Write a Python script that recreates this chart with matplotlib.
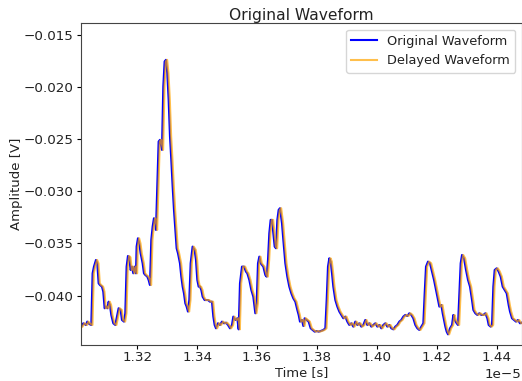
import matplotlib
matplotlib.use("Agg")
import matplotlib.pyplot as plt
import numpy as np

# time in units of 1e-5 s
t_1e5 = [
    1.30130, 1.30197, 1.30286, 1.30330, 1.30397, 1.30464, 1.30508, 1.30553, 1.30620, 1.30664,
    1.30709, 1.30753, 1.30820, 1.30864, 1.30909, 1.30953, 1.30998, 1.31042, 1.31087, 1.31131,
    1.31198, 1.31265, 1.31310, 1.31376, 1.31443, 1.31488, 1.31555, 1.31599, 1.31643, 1.31688,
    1.31732, 1.31777, 1.31822, 1.31866, 1.31911, 1.31955, 1.31977, 1.32022, 1.32066, 1.32111,
    1.32178, 1.32222, 1.32267, 1.32334, 1.32378, 1.32423, 1.32467, 1.32512, 1.32556, 1.32601,
    1.32623, 1.32668, 1.32712, 1.32757, 1.32801, 1.32823, 1.32868, 1.32912, 1.32957, 1.33001,
    1.33046, 1.33091, 1.33135, 1.33180, 1.33224, 1.33269, 1.33313, 1.33358, 1.33424, 1.33469,
    1.33514, 1.33558, 1.33603, 1.33647, 1.33692, 1.33736, 1.33781, 1.33846, 1.33914, 1.33959,
    1.34003, 1.34048, 1.34092, 1.34137, 1.34181, 1.34248, 1.34293, 1.34360, 1.34426, 1.34493,
    1.34538, 1.34582, 1.34627, 1.34693, 1.34760, 1.34827, 1.34894, 1.34961, 1.35027, 1.35094,
    1.35161, 1.35205, 1.35272, 1.35339, 1.35384, 1.35428, 1.35495, 1.35562, 1.35628, 1.35673,
    1.35740, 1.35806, 1.35873, 1.35940, 1.35985, 1.36029, 1.36074, 1.36118, 1.36163, 1.36207,
    1.36274, 1.36318, 1.36363, 1.36407, 1.36452, 1.36496, 1.36541, 1.36586, 1.36630, 1.36675,
    1.36719, 1.36764, 1.36830, 1.36875, 1.36942, 1.37008, 1.37075, 1.37142, 1.37209, 1.37276,
    1.37342, 1.37387, 1.37431, 1.37498, 1.37543, 1.37587, 1.37654, 1.37721, 1.37788, 1.37854,
    1.37921, 1.37988, 1.38055, 1.38121, 1.38210, 1.38277, 1.38322, 1.38366, 1.38411, 1.38455,
    1.38500, 1.38544, 1.38611, 1.38678, 1.38745, 1.38811, 1.38878, 1.38945, 1.39012, 1.39078,
    1.39145, 1.39212, 1.39279, 1.39345, 1.39412, 1.39479, 1.39546, 1.39613, 1.39679, 1.39746,
    1.39813, 1.39880, 1.39946, 1.40013, 1.40080, 1.40147, 1.40214, 1.40280, 1.40347, 1.40414,
    1.40481, 1.40548, 1.40614, 1.40681, 1.40748, 1.40815, 1.40881, 1.40948, 1.41015, 1.41082,
    1.41149, 1.41215, 1.41282, 1.41349, 1.41416, 1.41482, 1.41549, 1.41594, 1.41638, 1.41705,
    1.41772, 1.41839, 1.41906, 1.41972, 1.42039, 1.42084, 1.42150, 1.42195, 1.42240, 1.42284,
    1.42328, 1.42373, 1.42440, 1.42507, 1.42551, 1.42596, 1.42662, 1.42707, 1.42751, 1.42796,
    1.42841, 1.42907, 1.42974, 1.43041, 1.43107, 1.43174, 1.43219, 1.43285, 1.43352, 1.43419,
    1.43486, 1.43553, 1.43619, 1.43686, 1.43731, 1.43797, 1.43842, 1.43886, 1.43931, 1.43998,
    1.44065, 1.44131, 1.44198, 1.44265, 1.44332, 1.44398, 1.44443, 1.44510, 1.44577, 1.44643,
    1.44710, 1.44777, 1.44833,
]

amplitude = [
    -0.04297, -0.04265, -0.04281, -0.04249, -0.04272, -0.04281, -0.03786, -0.03722, -0.03658, -0.03690,
    -0.03882, -0.03898, -0.03914, -0.03962, -0.04121, -0.04105, -0.04121, -0.04058, -0.04090, -0.04185,
    -0.04265, -0.04281, -0.04217, -0.04121, -0.04137, -0.04233, -0.04249, -0.04169, -0.03722, -0.03620,
    -0.03632, -0.03754, -0.03722, -0.03786, -0.03722, -0.03786, -0.03530, -0.03450, -0.03498, -0.03594,
    -0.03690, -0.03786, -0.03802, -0.03818, -0.03850, -0.03898, -0.03466, -0.03338, -0.03258, -0.03306,
    -0.03370, -0.02955, -0.02523, -0.02507, -0.02571, -0.02603, -0.01996, -0.01756, -0.01740, -0.01868,
    -0.02123, -0.02475, -0.02699, -0.02955, -0.03178, -0.03370, -0.03546, -0.03594, -0.03690, -0.03818,
    -0.03914, -0.03978, -0.04074, -0.04105, -0.04153, -0.04042, -0.03690, -0.03530, -0.03562, -0.03658,
    -0.03850, -0.03914, -0.03914, -0.03946, -0.04010, -0.04042, -0.04042, -0.04042, -0.04058, -0.04058,
    -0.04201, -0.04281, -0.04313, -0.04265, -0.04281, -0.04249, -0.04265, -0.04259, -0.04281, -0.04313,
    -0.04281, -0.04201, -0.04233, -0.04217, -0.04323, -0.03882, -0.03722, -0.03722, -0.03770, -0.03786,
    -0.03850, -0.03946, -0.04010, -0.04169, -0.04074, -0.03690, -0.03626, -0.03690, -0.03706, -0.03722,
    -0.03802, -0.03818, -0.03658, -0.03402, -0.03274, -0.03274, -0.03402, -0.03530, -0.03546, -0.03274,
    -0.03178, -0.03162, -0.03306, -0.03466, -0.03690, -0.03818, -0.03914, -0.03978, -0.04026, -0.04058,
    -0.04137, -0.04185, -0.04249, -0.04233, -0.04291, -0.04217, -0.04233, -0.04249, -0.04313, -0.04329,
    -0.04345, -0.04339, -0.04345, -0.04339, -0.04329, -0.04313, -0.04042, -0.03722, -0.03642, -0.03674,
    -0.03786, -0.03914, -0.04042, -0.04105, -0.04153, -0.04185, -0.04217, -0.04201, -0.04249, -0.04281,
    -0.04265, -0.04297, -0.04249, -0.04281, -0.04265, -0.04297, -0.04281, -0.04233, -0.04281, -0.04265,
    -0.04297, -0.04281, -0.04265, -0.04297, -0.04281, -0.04313, -0.04281, -0.04265, -0.04297, -0.04281,
    -0.04313, -0.04323, -0.04297, -0.04281, -0.04249, -0.04233, -0.04201, -0.04185, -0.04195, -0.04169,
    -0.04185, -0.04217, -0.04281, -0.04313, -0.04329, -0.04297, -0.04265, -0.03978, -0.03722, -0.03674,
    -0.03690, -0.03770, -0.03850, -0.03946, -0.04042, -0.04105, -0.04090, -0.04169, -0.04233, -0.04297,
    -0.04345, -0.04371, -0.04313, -0.04281, -0.04185, -0.04233, -0.04265, -0.04281, -0.03978, -0.03690,
    -0.03610, -0.03642, -0.03754, -0.03850, -0.03914, -0.04042, -0.04137, -0.04169, -0.04185, -0.04169,
    -0.04185, -0.04185, -0.04169, -0.04217, -0.04281, -0.04297, -0.04281, -0.03914, -0.03754, -0.03738,
    -0.03770, -0.03818, -0.03914, -0.03946, -0.03978, -0.04090, -0.04153, -0.04217, -0.04233, -0.04249,
    -0.04233, -0.04265, -0.04259,
]

delay = 0.0004e-5  # s

t = np.array(t_1e5) * 1e-5
amp = np.array(amplitude)

plt.rcParams['text.color'] = '#222222'
plt.rcParams['axes.labelcolor'] = '#222222'
plt.rcParams['xtick.labelcolor'] = '#222222'
plt.rcParams['ytick.labelcolor'] = '#222222'

fig, ax = plt.subplots(figsize=(5.22, 3.81), dpi=100)
fig.subplots_adjust(left=0.1557, right=0.9994, top=0.9388, bottom=0.0945)

ax.plot(t, amp, color='blue', lw=1.5, label='Original Waveform')
ax.plot(t + delay, amp, color='orange', lw=1.5, alpha=0.7, label='Delayed Waveform')

ax.set_xlim(t[0], t[-1])
ax.set_ylim(-0.04473, -0.0139)
ax.set_xticks(np.array([1.32, 1.34, 1.36, 1.38, 1.40, 1.42, 1.44]) * 1e-5)
ax.tick_params(axis='both', labelsize=9.7, length=3.2)
ax.tick_params(axis='x', pad=1.2)
ax.tick_params(axis='y', pad=2.5)
ax.set_title('Original Waveform', fontsize=11.2, pad=2.0)
ax.set_xlabel('Time [s]', fontsize=9.4, labelpad=1.7)
ax.set_ylabel('Amplitude [V]', fontsize=9.5, labelpad=0)
ax.xaxis.get_offset_text().set_fontsize(9.7)
for sp in ax.spines.values():
    sp.set_color('#444444')
ax.legend(loc='upper right', fontsize=9.3)

fig.savefig('out.png', dpi=100)
